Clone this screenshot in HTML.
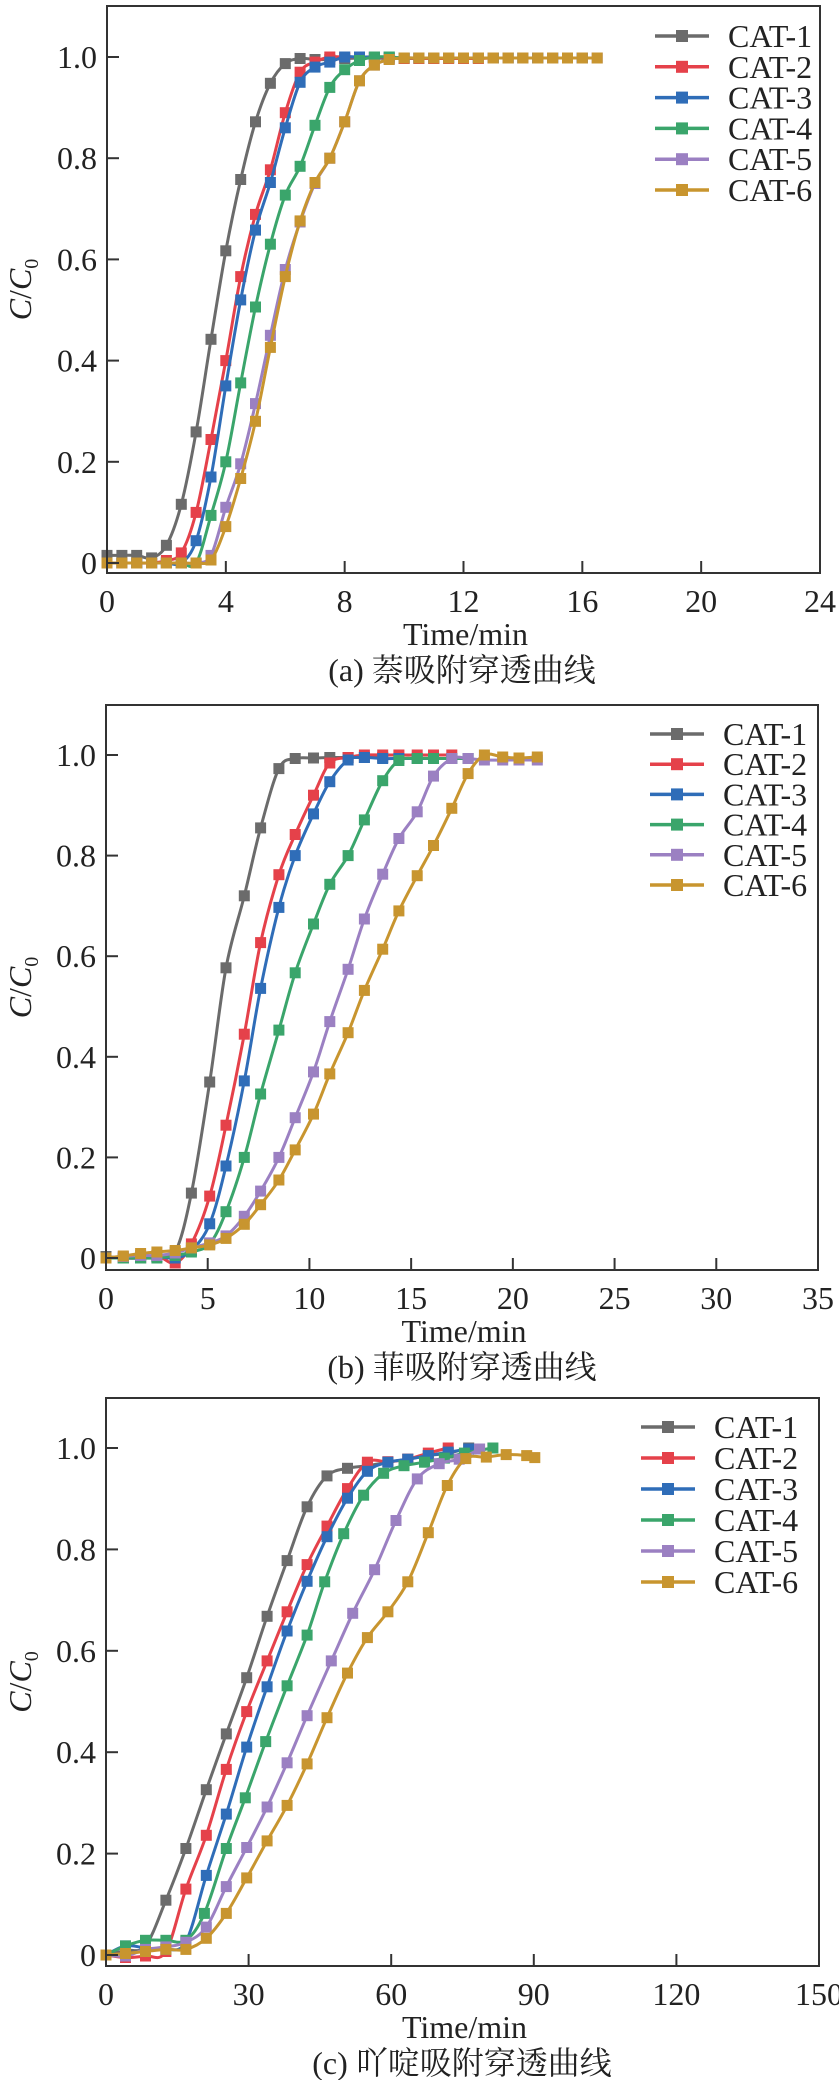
<!DOCTYPE html>
<html><head><meta charset="utf-8">
<style>
html,body{margin:0;padding:0;background:#fff;}
svg{display:block;}
text{font-family:"Liberation Serif","Noto Serif CJK SC","Noto Sans CJK SC",serif;fill:#222;}
</style></head>
<body>
<svg id="chart" width="839" height="2080" viewBox="0 0 839 2080" xmlns="http://www.w3.org/2000/svg"></svg>
<script>
// ---------- data ----------
const seriesNames = ["CAT-1","CAT-2","CAT-3","CAT-4","CAT-5","CAT-6"];
const seriesColors = ["#6b6b6b","#e5414a","#2f6db8","#3aa56b","#9b80c2","#c8952f"];

// Panel (a) naphthalene
const aTime = [0,0.5,1,1.5,2,2.5,3,3.5,4,4.5,5,5.5,6,6.5,7,7.5,8,8.5,9,9.5,10,10.5,11,11.5,12,12.5,13,13.5,14,14.5,15,15.5,16,16.5];
const aCat1 = [0.015,0.015,0.015,0.01,0.035,0.116,0.259,0.442,0.617,0.758,0.872,0.948,0.987,0.997,0.995,0.995,0.997,0.998,0.998,0.997,0.997,0.997,0.997,0.998,0.998,0.998,0.998,0.998,0.998,0.998,0.998,0.998,0.998];
const aCat2 = [0,0,0,0,0.005,0.02,0.10,0.244,0.40,0.566,0.689,0.777,0.89,0.97,0.99,1.0,1.0,1.0,1.0,0.998,0.997,0.997,0.997,0.997,0.997,0.997,0.998,0.998,0.998,0.998,0.998,0.998,0.998];
const aCat3 = [0,0,0,0,0,0,0.044,0.17,0.35,0.52,0.658,0.752,0.86,0.95,0.98,0.99,1.0,1.0,1.0,1.0,0.998,0.998,0.998,0.998,0.998,0.998,0.998,0.998,0.998,0.998,0.998,0.998,0.998];
const aCat4 = [0,0,0,0,0,0,0,0.094,0.20,0.356,0.506,0.63,0.727,0.784,0.865,0.94,0.975,0.993,1.0,1.0,0.998,0.998,0.998,0.998,0.998,0.998,0.998,0.998,0.998,0.998,0.998,0.998,0.998];
const aCat5 = [0,0,0,0,0,0,0,0.015,0.11,0.196,0.315,0.45,0.58,0.674,0.75,0.80,0.872,0.953,0.984,0.995,0.998,0.998,0.998,0.998,0.998,0.998,0.998,0.998,0.998,0.998,0.998,0.998,0.998,0.998];
const aCat6 = [0,0,0,0,0,0,0,0.006,0.072,0.167,0.28,0.426,0.566,0.676,0.752,0.80,0.872,0.953,0.984,0.995,0.998,0.998,0.998,0.998,0.998,0.998,0.998,0.998,0.998,0.998,0.998,0.998,0.998,0.998];
const aXTicks = [0,4,8,12,16,20,24];
const aYTicks = [0,0.2,0.4,0.6,0.8,1.0];
const aYTickLabels = ["0","0.2","0.4","0.6","0.8","1.0"];

// Panel (b) phenanthrene
const bTime = [0,0.85,1.7,2.5,3.4,4.2,5.1,5.9,6.8,7.6,8.5,9.3,10.2,11.0,11.9,12.7,13.6,14.4,15.3,16.1,17.0,17.8,18.6,19.5,20.3,21.2];
const bCat1 = [0.003,0,0,0.003,0.012,0.129,0.35,0.577,0.72,0.855,0.973,0.993,0.994,0.995,0.995,0.995,0.995];
const bCat2 = [0,0,0,0.005,-0.01,0.028,0.123,0.264,0.445,0.627,0.762,0.842,0.92,0.984,0.995,1.0,1.0,1.0,1.0,1.0,1.0];
const bCat3 = [0,0,0,0.003,0,0.015,0.068,0.183,0.352,0.536,0.697,0.80,0.883,0.947,0.99,0.995,0.993,0.993,0.993,0.993,0.993,0.993];
const bCat4 = [0,0,0,0,0.005,0.012,0.028,0.092,0.2,0.326,0.453,0.567,0.664,0.743,0.80,0.871,0.949,0.989,0.993,0.993,0.993,0.993];
const bCat5 = [0,0.003,0.005,0.005,0.01,0.02,0.03,0.044,0.083,0.133,0.2,0.279,0.37,0.47,0.574,0.674,0.763,0.834,0.887,0.958,0.993,0.993,0.99,0.99,0.99,0.99];
const bCat6 = [0,0.004,0.009,0.012,0.015,0.02,0.026,0.039,0.067,0.106,0.155,0.215,0.286,0.366,0.448,0.532,0.614,0.69,0.76,0.82,0.894,0.963,1.0,0.996,0.994,0.996];
const bXTicks = [0,5,10,15,20,25,30,35];
const bYTicks = [0,0.2,0.4,0.6,0.8,1.0];
const bYTickLabels = ["0","0.2","0.4","0.6","0.8","1.0"];

// Panel (c) acridine
const cTime1 = [0,4.1,8.3,12.6,16.8,21.1,25.3,29.6,33.9,38.1,42.3,46.5,50.8,55.0,59.3,63.5,67.8,72.0,76.3];
const cCat1 = [0,0.009,0.018,0.108,0.21,0.326,0.436,0.547,0.668,0.778,0.884,0.945,0.96,0.965,0.972,0.978,0.985,0.99,1.0];
const cTime2 = [0,4.1,8.3,12.6,16.8,21.1,25.3,29.6,33.9,38.1,42.3,46.5,50.8,55.0,59.3,63.5,67.8,72.0];
const cCat2 = [0,-0.005,-0.002,0.007,0.13,0.236,0.366,0.48,0.58,0.677,0.77,0.846,0.92,0.972,0.973,0.978,0.99,1.0];
const cTime3 = [0,4.1,8.3,12.6,16.8,21.1,25.3,29.6,33.9,38.1,42.3,46.5,50.8,55.0,59.3,63.5,67.8,72.0,76.3];
const cCat3 = [0,0.018,0.014,0.011,0.026,0.157,0.278,0.41,0.529,0.639,0.737,0.825,0.901,0.954,0.972,0.978,0.985,0.992,0.998];
const cTime4 = [0,4.1,8.3,12.6,16.8,20.7,25.3,29.3,33.6,38.1,42.3,46.0,50.0,54.2,58.4,62.7,67.0,71.2,75.4,81.4];
const cCat4 = [0,0.018,0.029,0.029,0.029,0.082,0.21,0.31,0.421,0.531,0.631,0.736,0.831,0.907,0.95,0.965,0.972,0.98,0.99,1.0];
const cTime5 = [0,4.1,8.3,12.6,16.8,21.1,25.3,29.6,33.9,38.1,42.3,47.4,51.9,56.5,61.0,65.5,70.1,74.3,78.6];
const cCat5 = [0,-0.002,0.011,0.016,0.025,0.055,0.135,0.212,0.292,0.379,0.472,0.58,0.674,0.76,0.857,0.939,0.969,0.978,0.998];
const cTime6 = [0,4.1,8.3,12.6,16.8,21.1,25.3,29.6,33.9,38.1,42.3,46.5,50.8,55.0,59.3,63.5,67.8,71.8,75.7,80.0,84.2,88.5,90.2];
const cCat6 = [0,0.003,0.007,0.011,0.011,0.033,0.082,0.152,0.225,0.295,0.377,0.468,0.556,0.626,0.677,0.736,0.833,0.926,0.979,0.982,0.987,0.985,0.981];
const cXTicks = [0,30,60,90,120,150];
const cYTicks = [0,0.2,0.4,0.6,0.8,1.0];
const cYTickLabels = ["0","0.2","0.4","0.6","0.8","1.0"];

// ---------- drawing ----------
const NS = "http://www.w3.org/2000/svg";
const svg = document.getElementById("chart");
const FS = 32;
function mk(tag, attrs, parent){
  const e = document.createElementNS(NS, tag);
  for (const k in attrs) e.setAttribute(k, attrs[k]);
  (parent||svg).appendChild(e);
  return e;
}
function smoothPath(pts){
  if (pts.length < 2) return "";
  let d = "M" + pts[0][0].toFixed(1) + "," + pts[0][1].toFixed(1);
  for (let i = 0; i < pts.length - 1; i++){
    const p0 = pts[Math.max(0,i-1)], p1 = pts[i], p2 = pts[i+1], p3 = pts[Math.min(pts.length-1,i+2)];
    const c1x = p1[0] + (p2[0]-p0[0])/6, c1y = p1[1] + (p2[1]-p0[1])/6;
    const c2x = p2[0] - (p3[0]-p1[0])/6, c2y = p2[1] - (p3[1]-p1[1])/6;
    d += " C" + c1x.toFixed(1) + "," + c1y.toFixed(1) + " " + c2x.toFixed(1) + "," + c2y.toFixed(1) + " " + p2[0].toFixed(1) + "," + p2[1].toFixed(1);
  }
  return d;
}

function drawPanel(cfg){
  const g = mk("g", {});
  
  
  const xs = v => cfg.left + (v - cfg.xMin) / (cfg.xMax - cfg.xMin) * (cfg.right - cfg.left);
  const ys = v => cfg.y0 - v * (cfg.y0 - cfg.y1);

  cfg.series.forEach((s, si) => {
    const sg = mk("g", {}, g);
    
    
    const n = Math.min(s.t.length, s.v.length);
    const pts = [];
    for (let i = 0; i < n; i++) pts.push([xs(s.t[i]), ys(s.v[i])]);
    const line = mk("path", {d: smoothPath(pts), fill: "none", stroke: seriesColors[si], "stroke-width": 3, "stroke-linejoin": "round"}, sg);
    
    
    pts.forEach(p => {
      const m = mk("rect", {x: (p[0]-5.5).toFixed(1), y: (p[1]-5.5).toFixed(1), width: 11, height: 11, fill: seriesColors[si]}, sg);
      
      
    });
  });

  const fr = mk("rect", {x: cfg.left, y: cfg.top, width: cfg.right - cfg.left, height: cfg.bottom - cfg.top, fill: "none", stroke: "#333", "stroke-width": 2}, g);
  
  

  cfg.xTicks.forEach(t => {
    const x = xs(t);
    const tk = mk("line", {x1: x, y1: cfg.bottom, x2: x, y2: cfg.bottom - 12, stroke: "#333", "stroke-width": 2}, g);
    
    
    const lb = mk("text", {x: x, y: cfg.bottom + 39, "font-size": FS, "text-anchor": "middle"}, g);
    lb.textContent = String(t);
    
    
  });
  cfg.yTicks.forEach((t, i) => {
    const y = ys(t);
    const tk = mk("line", {x1: cfg.left, y1: y, x2: cfg.left + 12, y2: y, stroke: "#333", "stroke-width": 2}, g);
    
    
    const lb = mk("text", {x: cfg.left - 10, y: y + 11, "font-size": FS, "text-anchor": "end"}, g);
    lb.textContent = cfg.yTickLabels[i];
    
    
  });

  const xt = mk("text", {x: (cfg.left + cfg.right) / 2 + 2, y: cfg.bottom + 72, "font-size": FS, "text-anchor": "middle"}, g);
  xt.textContent = "Time/min";
  
  
  const cy = (cfg.top + cfg.bottom) / 2;
  const yt = mk("text", {x: 0, y: 0, "font-size": FS, "text-anchor": "middle", transform: "translate(31," + cy + ") rotate(-90)"}, g);
  yt.innerHTML = '<tspan font-style="italic">C</tspan>/<tspan font-style="italic">C</tspan><tspan font-size="20" dy="7">0</tspan>';
  
  

  const cap = mk("text", {x: cfg.capX, y: cfg.bottom + 108, "font-size": FS, "text-anchor": "middle"}, g);
  cap.textContent = cfg.caption;
  
  

  const lg = mk("g", {}, g);
  
  
  seriesNames.forEach((nm, i) => {
    const y = cfg.legY + i * cfg.legStep;
    const eg = mk("g", {}, lg);
    
    
    mk("line", {x1: cfg.legX, y1: y, x2: cfg.legX + 54, y2: y, stroke: seriesColors[i], "stroke-width": 3.5}, eg);
    mk("rect", {x: cfg.legX + 21, y: y - 6, width: 12, height: 12, fill: seriesColors[i]}, eg);
    const t = mk("text", {x: cfg.legX + 73, y: y + 11, "font-size": FS}, eg);
    t.textContent = nm;
  });
}

drawPanel({
  name: "panel-a-naphthalene", left: 107, right: 820, top: 6, bottom: 573, y0: 563, y1: 57,
  xMin: 0, xMax: 24, xTicks: aXTicks, yTicks: aYTicks, yTickLabels: aYTickLabels,
  caption: "(a) 萘吸附穿透曲线", capX: 462, legX: 655, legY: 36, legStep: 30.8,
  series: [{t:aTime,v:aCat1},{t:aTime,v:aCat2},{t:aTime,v:aCat3},{t:aTime,v:aCat4},{t:aTime,v:aCat5},{t:aTime,v:aCat6}]
});
drawPanel({
  name: "panel-b-phenanthrene", left: 106, right: 818, top: 705, bottom: 1270, y0: 1258, y1: 755,
  xMin: 0, xMax: 35, xTicks: bXTicks, yTicks: bYTicks, yTickLabels: bYTickLabels,
  caption: "(b) 菲吸附穿透曲线", capX: 462, legX: 650, legY: 734, legStep: 30.2,
  series: [{t:bTime,v:bCat1},{t:bTime,v:bCat2},{t:bTime,v:bCat3},{t:bTime,v:bCat4},{t:bTime,v:bCat5},{t:bTime,v:bCat6}]
});
drawPanel({
  name: "panel-c-acridine", left: 106, right: 819, top: 1398, bottom: 1966, y0: 1955, y1: 1448,
  xMin: 0, xMax: 150, xTicks: cXTicks, yTicks: cYTicks, yTickLabels: cYTickLabels,
  caption: "(c) 吖啶吸附穿透曲线", capX: 462, legX: 641, legY: 1427, legStep: 31,
  series: [{t:cTime1,v:cCat1},{t:cTime2,v:cCat2},{t:cTime3,v:cCat3},{t:cTime4,v:cCat4},{t:cTime5,v:cCat5},{t:cTime6,v:cCat6}]
});
</script>
</body></html>
